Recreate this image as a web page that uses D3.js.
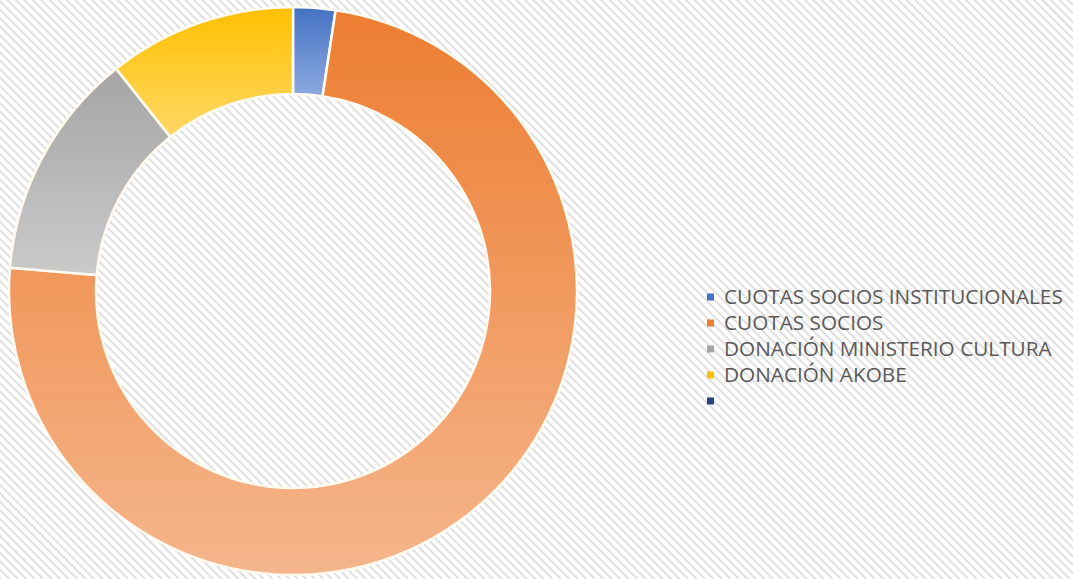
<!DOCTYPE html>
<html><head><meta charset="utf-8">
<script src="https://cdn.jsdelivr.net/npm/d3@7"></script>
<style>html,body{margin:0;padding:0;background:#fff;}svg{display:block;}</style>
</head><body>
<svg id="chart" width="1073" height="579"></svg>
<script>
const categories = ["CUOTAS SOCIOS INSTITUCIONALES", "CUOTAS SOCIOS", "DONACIÓN MINISTERIO CULTURA", "DONACIÓN AKOBE", ""];
const values = [2.4, 73.9, 13.0, 10.7, 0];
const colors = ["#4472C4", "#ED7D31", "#A5A5A5", "#FFC000", "#264478"];
const lightColors = ["#8DAAE0", "#F5B68C", "#CACACA", "#FFD866", "#264478"];

const svg = d3.select("#chart");
const W = 1073, H = 579;
const defs = svg.append("defs");

// striped background
const pat = defs.append("pattern").attr("id","stripes").attr("patternUnits","userSpaceOnUse")
  .attr("width",6).attr("height",6).attr("patternTransform","rotate(45)");
pat.append("rect").attr("width",6).attr("height",6).attr("fill","#ffffff");
pat.append("rect").attr("width",6).attr("height",1.6).attr("fill","#d8d8d8");
svg.append("rect").attr("width",W).attr("height",H).attr("fill","url(#stripes)");

colors.forEach((c,i)=>{
  const g = defs.append("linearGradient").attr("id","grad"+i).attr("x1",0).attr("y1",0).attr("x2",0).attr("y2",1);
  g.append("stop").attr("offset","0%").attr("stop-color",c);
  g.append("stop").attr("offset","100%").attr("stop-color",lightColors[i]);
});

const cx = 293, cy = 291, R = 284, r = 197;
const pie = d3.pie().sort(null).value(d=>d)(values);
const arc = d3.arc().innerRadius(r).outerRadius(R);
const g = svg.append("g").attr("transform",`translate(${cx},${cy})`);
g.selectAll("path").data(pie.filter(d=>d.value>0)).join("path")
  .attr("d",arc)
  .attr("fill",d=>`url(#grad${d.index})`)
  .attr("stroke","#fffaf0").attr("stroke-width",2.5).attr("stroke-linejoin","round");

// legend
const lg = svg.append("g");
const rowY = d3.scaleLinear().domain([0,4]).range([297,401]);
const items = lg.selectAll("g").data(categories).join("g")
  .attr("transform",(d,i)=>`translate(0,${rowY(i)})`);
items.append("rect").attr("x",707).attr("y",-3.5).attr("width",7).attr("height",7)
  .attr("fill",(d,i)=>colors[i]);
const texts = items.append("text").attr("x",724).attr("y",6.5)
  .attr("font-family","'Open Sans', sans-serif").attr("font-size",16)
  .attr("fill","#595959").text(d=>d);
// fit first label to reference width
const w0 = texts.nodes()[0].getComputedTextLength();
const fs = 16 * 339 / w0;
texts.attr("font-size",fs);
</script>
</body></html>
